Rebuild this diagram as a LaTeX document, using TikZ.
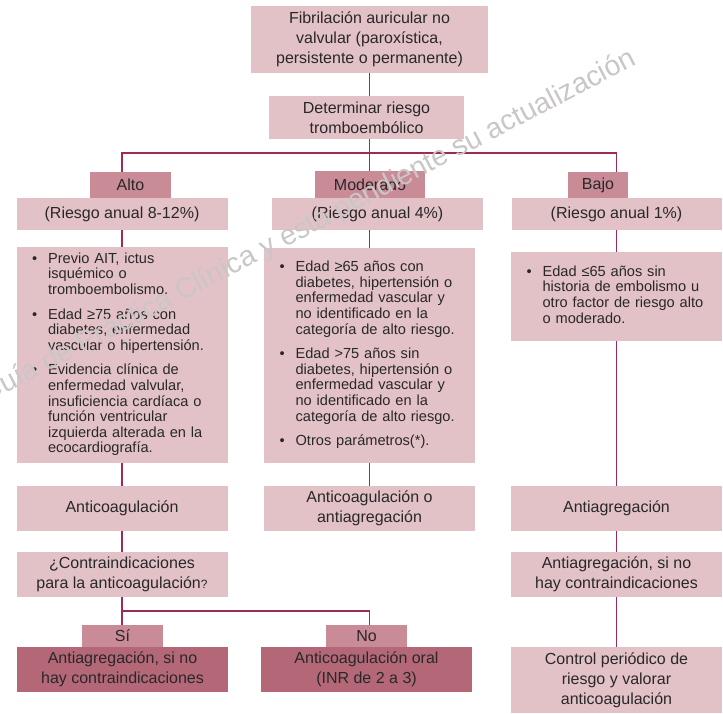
\documentclass[tikz,border=0pt]{standalone}
\usepackage{fontspec}
\setmainfont{Liberation Sans}

\definecolor{boxpink}{RGB}{227,194,199}
\definecolor{tagpink}{RGB}{201,139,150}
\definecolor{darkpink}{RGB}{180,104,119}
\definecolor{linkcol}{RGB}{158,42,88}
\definecolor{txtgray}{RGB}{40,40,40}
\definecolor{wmgray}{RGB}{202,198,199}

\begin{document}
\begin{tikzpicture}[x=1pt, y=-1pt,
	every node/.style={text=txtgray, font=\fontsize{16}{20}\selectfont, align=center, inner sep=0pt},
	box/.style={fill=boxpink, minimum width=211, minimum height=45},
	dark/.style={fill=darkpink, minimum width=211, minimum height=45},
	tag/.style={fill=tagpink},
	risk/.style={box, minimum height=32},
	list/.style={box, text width=180, align=left, font=\fontsize{14.6}{15.6}\selectfont},
	link/.style={draw=linkcol, line width=1.5pt}]
	\useasboundingbox (0,0) rectangle (723,713);
	% top
	\node[box, minimum width=237, minimum height=67] (fa) at (369.5,39.5) {Fibrilación auricular no\\valvular (paroxística,\\persistente o permanente)};
	\node[box, minimum width=195, minimum height=43] (det) at (366.5,117.5) {Determinar riesgo\\tromboembólico};
	% alto
	\node[tag, minimum width=81, minimum height=26] (alto) at (130.5,185) {Alto};
	\node[risk] (altor) at (122,214) {(Riesgo anual 8-12\%)};
	\node[list, minimum height=216] (altob) at (122,355) {\noindent
		\begin{tabular}{@{}l@{\hspace{11pt}}l@{}}
			\textbullet & Previo AIT, ictus\\
			& isquémico o\\
			& tromboembolismo.\\[9pt]
			\textbullet & Edad ≥75 años con\\
			& diabetes, enfermedad\\
			& vascular o hipertensión.\\[9pt]
			\textbullet & Evidencia clínica de\\
			& enfermedad valvular,\\
			& insuficiencia cardíaca o\\
			& función ventricular\\
			& izquierda alterada en la\\
			& ecocardiografía.
	\end{tabular}};
	% moderado
	\node[tag, minimum width=110, minimum height=27] (mod) at (370,184.5) {Moderado};
	\node[risk] (modr) at (377.5,214) {(Riesgo anual 4\%)};
	\node[list, minimum height=215] (modb) at (369.5,355.5) {\noindent
		\begin{tabular}{@{}l@{\hspace{11pt}}l@{}}
			\textbullet & Edad ≥65 años con\\
			& diabetes, hipertensión o\\
			& enfermedad vascular y\\
			& no identificado en la\\
			& categoría de alto riesgo.\\[9pt]
			\textbullet & Edad >75 años sin\\
			& diabetes, hipertensión o\\
			& enfermedad vascular y\\
			& no identificado en la\\
			& categoría de alto riesgo.\\[9pt]
			\textbullet & Otros parámetros(*).
	\end{tabular}};
	% bajo
	\node[tag, minimum width=60, minimum height=26] (bajo) at (598,185) {Bajo};
	\node[risk, minimum width=210] (bajor) at (616.5,214) {(Riesgo anual 1\%)};
	\node[list, minimum height=89] (bajob) at (616.5,296.5) {\noindent
		\begin{tabular}{@{}l@{\hspace{11pt}}l@{}}
			\textbullet & Edad ≤65 años sin\\
			& historia de embolismo u\\
			& otro factor de riesgo alto\\
			& o moderado.
	\end{tabular}};
	% tratamiento
	\node[box] (ac1) at (122,508.5) {Anticoagulación};
	\node[box] (ac2) at (369.5,508.5) {Anticoagulación o\\antiagregación};
	\node[box] (ac3) at (616.5,508.5) {Antiagregación};
	\node[box] (ci) at (122,574.5) {¿Contraindicaciones\\para la anticoagulación{\fontsize{12}{12}\selectfont ?}};
	\node[box] (ag2) at (616.5,574.5) {Antiagregación, si no\\hay contraindicaciones};
	\node[tag, minimum width=81, minimum height=22] (si) at (122.5,636) {Sí};
	\node[tag, minimum width=81, minimum height=22] (no) at (366.5,636) {No};
	\node[dark] (dk1) at (122.5,669.5) {Antiagregación, si no\\hay contraindicaciones};
	\node[dark] (dk2) at (366.5,669.5) {Anticoagulación oral\\(INR de 2 a 3)};
	\node[box, minimum height=66] (ctrl) at (616.5,680) {Control periódico de\\riesgo y valorar\\anticoagulación};
	\coordinate (split) at (369.5,153);
	\coordinate (fork) at (122,611);
	% lineas
	\draw[link] (fa.south) -- (fa.south |- det.north);
	\draw[link] (det.south -| split) -- (split);
	\draw[link] (alto.north -| altor) |- (split) -| (bajo.north -| bajor);
	\draw[link] (split) -- (mod.north -| split);
	\draw[link] (altor.south) -- (altob.north);
	\draw[link] (modr.south -| modb) -- (modb.north);
	\draw[link] (bajor.south) -- (bajob.north);
	\draw[link] (altob.south) -- (ac1.north);
	\draw[link] (modb.south) -- (ac2.north);
	\draw[link] (bajob.south) -- (ac3.north);
	\draw[link] (ac1.south) -- (ci.north);
	\draw[link] (ac3.south) -- (ag2.north);
	\draw[link] (ag2.south) -- (ctrl.north);
	\draw[link] (ci.south) -- (fork) -- (fork |- si.north);
	\draw[link] (fork) -| (no.north -| modb);
	% marca de agua
	\begin{scope}
		\clip (0,0) rectangle (723,713);
		\node[text=wmgray, font=\fontsize{28.5}{28.5}\selectfont, rotate=27.5, anchor=base east] (wm) at (638,64) {Guía de Práctica Clínica y esta pendiente su actualización};
	\end{scope}
\end{tikzpicture}
\end{document}
